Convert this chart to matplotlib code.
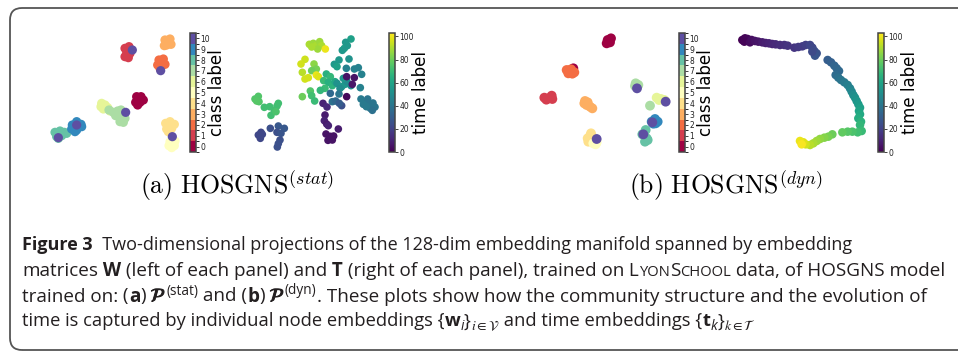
import matplotlib
matplotlib.use("Agg")
import matplotlib.pyplot as plt
import numpy as np
from matplotlib.colors import BoundaryNorm, Normalize
from matplotlib.cm import ScalarMappable
from matplotlib.patches import FancyBboxPatch
import matplotlib.patheffects as pe

W, H = 958, 352

# panel (a), node embeddings W: x, y (projection units) and class label
aw_x = [240, 252, 245, 255, 240, 250, 258, 248,
        360, 375, 365, 378, 358, 370,
        342, 355, 338, 352, 345, 360, 348,
        275, 288, 272, 285, 295, 278, 282,
        170, 180, 188, 175, 195, 168,
        192, 205, 218, 228, 212, 225, 235, 225, 235, 240, 230,
        82, 95, 108, 80, 95, 110, 90, 100,
        30, 45, 58, 65, 35, 50, 40, 45,
        362, 375, 388, 365, 380, 370, 375,
        375, 390, 372, 388, 380, 382,
        262, 347, 242, 95, 40, 382]
aw_y = [70, 65, 85, 85, 95, 98, 75, 75,
        45, 42, 60, 58, 62, 50,
        105, 102, 120, 120, 130, 118, 112,
        215, 215, 232, 232, 225, 240, 222,
        235, 240, 248, 252, 258, 245,
        255, 262, 258, 255, 272, 275, 270, 290, 292, 280, 265,
        300, 290, 298, 312, 315, 305, 320, 305,
        322, 318, 322, 325, 335, 332, 340, 328,
        295, 290, 298, 312, 310, 320, 302,
        350, 348, 362, 362, 368, 355,
        75, 137, 262, 300, 338, 335]
aw_cls = [1] * 8 + [3] * 6 + [2] * 7 + [0] * 7 + [6] * 6 + [7] * 11 + [9] * 8 \
    + [8] * 8 + [4] * 7 + [5] * 6 + [10] * 6

# panel (a), time embeddings T: x, y and time step
at_x = [193, 205, 213, 224, 230, 218, 200, 241,
        318, 302, 298, 307, 292,
        180, 168, 207, 214, 200, 172, 180, 190, 214, 220,
        282, 268, 276, 312,
        304, 328, 340, 350,
        244, 256, 236, 250, 262, 240, 226, 270,
        172, 196, 200, 209,
        276, 290, 300, 306, 318, 295, 285,
        305, 328, 322, 305,
        346, 256, 282, 262, 272, 290, 283,
        234, 246, 240, 238, 245, 250, 280, 243, 256, 266, 249, 262,
        348, 360, 368, 372, 384, 390, 376, 382, 364, 355,
        30, 40, 42, 35, 58, 74, 78, 88, 96, 100, 93,
        40, 48, 46, 52, 76, 100, 118, 96, 108, 105, 100, 97]
at_y = [58, 55, 62, 50, 62, 72, 66, 72,
        42, 52, 70, 62, 76,
        103, 117, 117, 132, 137, 142, 162, 158, 150, 155,
        105, 118, 125, 102,
        130, 132, 128, 148,
        147, 155, 167, 172, 182, 190, 196, 170,
        215, 198, 212, 228,
        175, 185, 178, 170, 182, 160, 190,
        155, 158, 178, 215,
        188, 205, 207, 230, 228, 242, 235,
        235, 246, 270, 287, 297, 302, 312, 327, 334, 333, 346, 345,
        222, 232, 222, 238, 234, 246, 250, 256, 245, 238,
        222, 214, 230, 228, 247, 245, 271, 257, 243, 235, 260,
        330, 322, 340, 328, 310, 303, 310, 322, 325, 345, 356, 366]
at_t = [90, 88, 90, 88, 90, 88, 90, 100,
        58, 55, 58, 55, 55,
        95, 96, 85, 82, 80, 92, 96, 96, 100, 98,
        55, 55, 58, 52,
        45, 45, 45, 45,
        65, 68, 70, 65, 66, 70, 68, 62,
        80, 75, 72, 70,
        52, 55, 55, 50, 50, 55, 50,
        5, 5, 6, 2,
        45, 35, 40, 38, 35, 25, 30,
        10, 12, 8, 10, 8, 10, 8, 5, 5, 5, 5, 5,
        42, 42, 40, 40, 40, 40, 40, 38, 42, 42,
        75, 75, 75, 76, 72, 72, 72, 72, 72, 72, 74,
        22, 22, 22, 22, 25, 28, 28, 25, 27, 25, 25, 25]

# panel (b), node embeddings W
bw_x = [218, 228, 215, 225, 115,
        95, 108, 118, 100, 112,
        28, 40, 50, 52, 34,
        150, 155, 165, 172, 158, 148,
        302, 310, 300, 345,
        365, 378, 388, 372,
        350, 360, 368, 355, 362,
        332, 322, 335, 330, 338,
        168, 158, 170, 160, 175, 165,
        182, 175, 185,
        306, 392, 352, 325, 185]
bw_y = [45, 40, 55, 52, 130,
        135, 133, 142, 145, 146,
        218, 220, 212, 222, 224,
        228, 240, 245, 250, 232, 235,
        175, 180, 183, 242,
        218, 222, 225, 225,
        290, 282, 290, 296, 295,
        315, 328, 340, 350, 345,
        325, 340, 345, 350, 338, 333,
        358, 355, 352,
        190, 230, 292, 328, 342]
bw_cls = [0] * 5 + [2] * 5 + [1] * 5 + [3] * 6 + [7] * 4 + [6] * 4 + [9] * 5 \
    + [8] * 5 + [4] * 6 + [5] * 3 + [10] * 5

# panel (b), time embeddings T
bt_x = [22, 30, 38, 28, 45, 50, 60, 70, 82, 92, 102, 112, 122, 135, 148, 158,
        178, 190, 202, 212, 225, 232, 238, 245, 240, 232,
        278, 288, 298, 305, 312, 302, 310, 318, 328, 338, 345, 350, 355, 360,
        365, 370, 375, 372, 375, 370, 378, 375, 380, 368, 352, 338, 322,
        292, 280, 268, 255, 245, 235, 225, 212, 205, 195, 200]
bt_y = [45, 40, 42, 50, 52, 45, 48, 50, 52, 54, 55, 57, 58, 60, 60, 62,
        68, 66, 64, 60, 60, 68, 78, 85, 92, 80,
        105, 112, 122, 130, 138, 150, 158, 165, 172, 180, 190, 200, 210, 218,
        228, 238, 248, 258, 268, 280, 290, 300, 318, 322, 320, 320, 322,
        328, 335, 338, 342, 348, 355, 360, 358, 352, 348, 358]
bt_t = [0, 1, 2, 1, 3, 4, 5, 6, 8, 9, 10, 11, 12, 13, 14, 15,
        16, 17, 18, 19, 21, 22, 24, 26, 27, 23,
        30, 31, 33, 34, 35, 36, 38, 40, 42, 44, 46, 48, 50, 52,
        54, 56, 58, 60, 62, 64, 66, 68, 70, 72, 74, 76, 78,
        80, 82, 84, 86, 88, 90, 92, 96, 98, 100, 102]

class_ticks = list(range(11))
time_ticks = [0, 20, 40, 60, 80, 100]

fig = plt.figure(figsize=(W / 100, H / 100), dpi=100)


def px_axes(l, t, w, h):
    return fig.add_axes([l / W, 1 - (t + h) / H, w / W, h / H])


spectral = plt.get_cmap("Spectral", 11)
class_norm = BoundaryNorm(np.arange(-0.5, 11.5, 1), 11)
time_norm = Normalize(0, 103)


def scatter_panel(ax, x, y, c, cmap, norm, s):
    x, y, c = np.array(x), np.array(y), np.array(c)
    order = np.argsort(c, kind="stable")
    if cmap is not spectral:
        order = np.arange(len(c))
    ax.scatter(x[order], y[order], c=c[order], cmap=cmap, norm=norm, s=s,
               edgecolors="none")
    ax.set_xlim(0, 420)
    ax.set_ylim(405, 0)
    ax.axis("off")


def add_cbar(l, cmap, norm, ticks, label):
    cax = px_axes(l, 33, 6, 119)
    cb = fig.colorbar(ScalarMappable(norm=norm, cmap=cmap), cax=cax, ticks=ticks)
    cb.ax.tick_params(labelsize=5.5, length=2, width=0.6, pad=1, colors="#222222")
    cb.outline.set_linewidth(1.1)
    cb.outline.set_edgecolor("#444444")
    cb.set_label(label, fontsize=12, labelpad=-1)


scatter_panel(px_axes(45, 25, 140, 135), aw_x, aw_y, aw_cls, spectral, class_norm, 44)
scatter_panel(px_axes(245, 25, 140, 135), at_x, at_y, at_t, "viridis", time_norm, 30)
scatter_panel(px_axes(535, 25, 140, 135), bw_x, bw_y, bw_cls, spectral, class_norm, 50)
scatter_panel(px_axes(735, 25, 140, 135), bt_x, bt_y, bt_t, "viridis", time_norm, 38)

add_cbar(190, spectral, class_norm, class_ticks, "class label")
add_cbar(389, "viridis", time_norm, time_ticks, "time label")
add_cbar(679, spectral, class_norm, class_ticks, "class label")
add_cbar(878, "viridis", time_norm, time_ticks, "time label")

fig.text(237 / W, 1 - 186 / H, r"$\mathrm{(a)\ HOSGNS}^{(stat)}$", ha="center",
         va="center", fontsize=18.5, math_fontfamily="cm")
fig.text(726 / W, 1 - 186 / H, r"$\mathrm{(b)\ HOSGNS}^{(dyn)}$", ha="center",
         va="center", fontsize=18.5, math_fontfamily="cm")

box = FancyBboxPatch((0.10, 0.02), 10.2, 3.42,
                     boxstyle="round,pad=0,rounding_size=0.12",
                     transform=fig.dpi_scale_trans, fill=False,
                     edgecolor="#555555", lw=1.3)
fig.add_artist(box)

# caption, drawn run by run
cap_font = "Open Sans"
ink = "#231f20"
renderer = fig.canvas.get_renderer()
bold_p = [pe.withStroke(linewidth=0.7, foreground=ink)]


def caption_line(y_base, runs, size, x0=22):
    x = x0
    for txt, opts in runs:
        opts = dict(opts)
        dy = opts.pop("dy", 0)
        fs = size * opts.pop("scale", 1.0)
        t = fig.text(x / W, 1 - (y_base + dy) / H, txt, fontsize=fs,
                     va="baseline", ha="left", family=cap_font, color=ink, **opts)
        x += t.get_window_extent(renderer).width


B = {"weight": "bold"}
SC = {"scale": 0.78}
SUP = {"scale": 0.72, "dy": -7}
CAL = {"math_fontfamily": "stix", "path_effects": bold_p}
SUB = {"scale": 0.75, "dy": 4, "math_fontfamily": "stix"}

caption_line(250, [("Figure 3", B),
                   ("  Two-dimensional projections of the 128-dim embedding "
                    "manifold spanned by embedding", {})], 13.0)
caption_line(276, [("matrices", {}), (" W", B), (" (left of each panel) and", {}),
                   (" T", B), (" (right of each panel), trained on", {}),
                   (" L", {}), ("YON", SC), ("S", {}), ("CHOOL", SC),
                   (" data, of HOSGNS model", {})], 13.6)
caption_line(301.5, [("trained on:", {}), (" (", {}), ("a", B), (")", {}),
                     (r" $\mathcal{P}$", CAL), ("(stat)", SUP), (" and (", {}),
                     ("b", B), (")", {}), (r" $\mathcal{P}$", CAL), ("(dyn)", SUP),
                     (". These plots show how the community structure and the "
                      "evolution of", {})], 13.6)
caption_line(326.5, [("time is captured by individual node embeddings {", {}),
                     ("w", B), ("i", dict(SUB, style="italic")), ("}", {}),
                     (r"$i\in\mathcal{V}$", SUB),
                     (" and time embeddings {", {}), ("t", B),
                     ("k", dict(SUB, style="italic")), ("}", {}),
                     (r"$k\in\mathcal{T}$", SUB)], 13.2)

fig.savefig("out.png", dpi=100)
